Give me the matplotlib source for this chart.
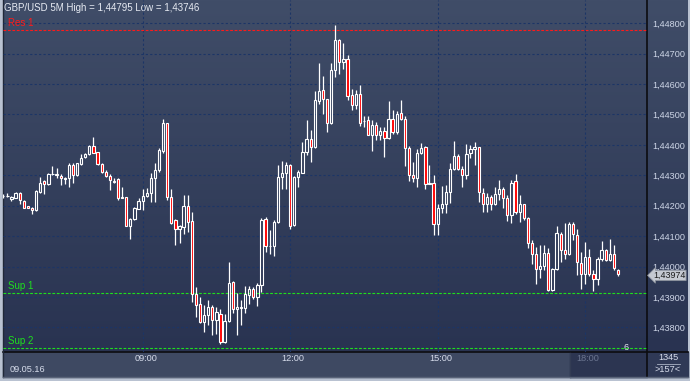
"""GBP/USD 5 minute candlestick chart with support / resistance levels.

Saves image to out.png (690x381).
"""

import numpy as np
from matplotlib import pyplot as plt
from matplotlib import transforms
from matplotlib.ticker import FuncFormatter

plt.rcParams["font.family"] = ["Liberation Sans", "DejaVu Sans"]

# chart data (5 minute candles, first one at 06:10)
start_time = "06:10"
opens = [
    1.44231, 1.44231, 1.44221, 1.44226, 1.44243, 1.44216, 1.44198, 1.44193, 1.44185, 1.44245,
    1.44281, 1.44271, 1.44303, 1.44300, 1.44298, 1.44287, 1.44292, 1.44334, 1.44300, 1.44337,
    1.44359, 1.44370, 1.44397, 1.44375, 1.44336, 1.44312, 1.44298, 1.44279, 1.44287, 1.44227,
    1.44227, 1.44133, 1.44155, 1.44190, 1.44215, 1.44232, 1.44243, 1.44292, 1.44317, 1.44381,
    1.44471, 1.44229, 1.44152, 1.44124, 1.44130, 1.44200, 1.44149, 1.43910, 1.43877, 1.43816,
    1.43842, 1.43868, 1.43824, 1.43844, 1.43751, 1.43820, 1.43950, 1.43859, 1.43862, 1.43862,
    1.43906, 1.43925, 1.43899, 1.43939, 1.44157, 1.44067, 1.44068, 1.44145, 1.44293, 1.44307,
    1.44334, 1.44137, 1.44296, 1.44309, 1.44378, 1.44419, 1.44393, 1.44544, 1.44580, 1.44552,
    1.44472, 1.44646, 1.44745, 1.44673, 1.44684, 1.44563, 1.44530, 1.44566, 1.44477, 1.44481,
    1.44434, 1.44467, 1.44432, 1.44445, 1.44424, 1.44484, 1.44443, 1.44506, 1.44486, 1.44391,
    1.44302, 1.44292, 1.44374, 1.44393, 1.44274, 1.44275, 1.44140, 1.44193, 1.44206, 1.44245,
    1.44321, 1.44362, 1.44321, 1.44302, 1.44372, 1.44386, 1.44392, 1.44243, 1.44204, 1.44229,
    1.44204, 1.44238, 1.44256, 1.44224, 1.44171, 1.44282, 1.44180, 1.44204, 1.44161, 1.44078,
    1.44042, 1.43992, 1.44001, 1.44045, 1.43923, 1.43992, 1.44108, 1.44055, 1.44042, 1.44141,
    1.44105, 1.44011, 1.43974, 1.44031, 1.43976, 1.43960, 1.44025, 1.44053, 1.44023, 1.44042,
    1.43990,
]
highs = [
    1.44240, 1.44243, 1.44232, 1.44245, 1.44245, 1.44218, 1.44200, 1.44196, 1.44253, 1.44293,
    1.44284, 1.44309, 1.44330, 1.44323, 1.44303, 1.44295, 1.44339, 1.44339, 1.44341, 1.44370,
    1.44374, 1.44400, 1.44427, 1.44378, 1.44339, 1.44319, 1.44303, 1.44290, 1.44290, 1.44260,
    1.44229, 1.44161, 1.44196, 1.44226, 1.44254, 1.44259, 1.44306, 1.44339, 1.44389, 1.44484,
    1.44473, 1.44256, 1.44155, 1.44136, 1.44234, 1.44234, 1.44178, 1.43934, 1.43899, 1.43875,
    1.43890, 1.43875, 1.43866, 1.43860, 1.43844, 1.44014, 1.43953, 1.43914, 1.43890, 1.43936,
    1.43936, 1.43934, 1.43947, 1.44161, 1.44163, 1.44121, 1.44153, 1.44334, 1.44347, 1.44345,
    1.44337, 1.44298, 1.44318, 1.44409, 1.44482, 1.44449, 1.44577, 1.44670, 1.44626, 1.44552,
    1.44670, 1.44795, 1.44747, 1.44736, 1.44695, 1.44583, 1.44580, 1.44596, 1.44494, 1.44494,
    1.44481, 1.44476, 1.44459, 1.44459, 1.44544, 1.44516, 1.44512, 1.44547, 1.44495, 1.44398,
    1.44344, 1.44387, 1.44407, 1.44395, 1.44335, 1.44300, 1.44206, 1.44264, 1.44269, 1.44340,
    1.44412, 1.44371, 1.44330, 1.44402, 1.44400, 1.44411, 1.44394, 1.44257, 1.44242, 1.44234,
    1.44260, 1.44284, 1.44262, 1.44234, 1.44284, 1.44304, 1.44234, 1.44207, 1.44163, 1.44086,
    1.44064, 1.44070, 1.44070, 1.44062, 1.43995, 1.44132, 1.44113, 1.44143, 1.44147, 1.44147,
    1.44125, 1.44047, 1.44080, 1.44058, 1.43987, 1.44031, 1.44083, 1.44058, 1.44091, 1.44072,
    1.43992,
]
lows = [
    1.44226, 1.44229, 1.44216, 1.44224, 1.44205, 1.44191, 1.44191, 1.44174, 1.44183, 1.44243,
    1.44240, 1.44268, 1.44300, 1.44290, 1.44268, 1.44273, 1.44262, 1.44275, 1.44297, 1.44335,
    1.44356, 1.44367, 1.44372, 1.44333, 1.44309, 1.44295, 1.44251, 1.44276, 1.44218, 1.44224,
    1.44132, 1.44091, 1.44154, 1.44188, 1.44185, 1.44229, 1.44213, 1.44213, 1.44311, 1.44374,
    1.44220, 1.44141, 1.44072, 1.44077, 1.44108, 1.44113, 1.43882, 1.43835, 1.43813, 1.43783,
    1.43806, 1.43775, 1.43778, 1.43746, 1.43747, 1.43817, 1.43846, 1.43775, 1.43808, 1.43846,
    1.43877, 1.43894, 1.43871, 1.43917, 1.44048, 1.44040, 1.44035, 1.44142, 1.44255, 1.44256,
    1.44123, 1.44134, 1.44260, 1.44306, 1.44367, 1.44345, 1.44390, 1.44536, 1.44500, 1.44442,
    1.44468, 1.44624, 1.44632, 1.44651, 1.44547, 1.44516, 1.44519, 1.44461, 1.44459, 1.44432,
    1.44380, 1.44415, 1.44417, 1.44360, 1.44421, 1.44437, 1.44437, 1.44483, 1.44330, 1.44281,
    1.44277, 1.44261, 1.44369, 1.44255, 1.44272, 1.44104, 1.44104, 1.44176, 1.44175, 1.44208,
    1.44316, 1.44316, 1.44261, 1.44289, 1.44356, 1.44334, 1.44213, 1.44180, 1.44180, 1.44185,
    1.44201, 1.44218, 1.44194, 1.44150, 1.44144, 1.44174, 1.44147, 1.44152, 1.44061, 1.44009,
    1.43941, 1.43963, 1.43987, 1.43919, 1.43919, 1.43989, 1.44015, 1.44026, 1.44039, 1.44086,
    1.43971, 1.43927, 1.43941, 1.43970, 1.43918, 1.43938, 1.44018, 1.44018, 1.44018, 1.43990,
    1.43970,
]
closes = [
    1.44233, 1.44233, 1.44227, 1.44243, 1.44218, 1.44194, 1.44193, 1.44185, 1.44248, 1.44276,
    1.44273, 1.44303, 1.44304, 1.44303, 1.44290, 1.44292, 1.44334, 1.44300, 1.44339, 1.44358,
    1.44370, 1.44397, 1.44374, 1.44336, 1.44312, 1.44297, 1.44284, 1.44282, 1.44224, 1.44225,
    1.44133, 1.44155, 1.44192, 1.44216, 1.44232, 1.44243, 1.44292, 1.44317, 1.44383, 1.44471,
    1.44229, 1.44143, 1.44124, 1.44132, 1.44200, 1.44146, 1.43910, 1.43875, 1.43816, 1.43842,
    1.43868, 1.43824, 1.43850, 1.43751, 1.43820, 1.43947, 1.43859, 1.43866, 1.43866, 1.43908,
    1.43925, 1.43899, 1.43939, 1.44154, 1.44068, 1.44068, 1.44145, 1.44293, 1.44307, 1.44334,
    1.44134, 1.44296, 1.44312, 1.44378, 1.44419, 1.44394, 1.44547, 1.44577, 1.44552, 1.44473,
    1.44646, 1.44745, 1.44673, 1.44684, 1.44560, 1.44530, 1.44569, 1.44473, 1.44479, 1.44434,
    1.44467, 1.44432, 1.44445, 1.44424, 1.44484, 1.44443, 1.44503, 1.44486, 1.44391, 1.44302,
    1.44292, 1.44374, 1.44391, 1.44272, 1.44272, 1.44140, 1.44193, 1.44206, 1.44245, 1.44321,
    1.44363, 1.44321, 1.44302, 1.44371, 1.44386, 1.44392, 1.44244, 1.44207, 1.44229, 1.44204,
    1.44238, 1.44256, 1.44226, 1.44171, 1.44276, 1.44180, 1.44204, 1.44161, 1.44078, 1.44042,
    1.43992, 1.44001, 1.44045, 1.43923, 1.43992, 1.44111, 1.44055, 1.44042, 1.44141, 1.44106,
    1.44015, 1.43974, 1.44031, 1.43976, 1.43960, 1.44025, 1.44053, 1.44023, 1.44042, 1.43995,
    1.43974,
]

time_labels = ["09:00", "12:00", "15:00", "18:00"]
price_ticks = [1.438, 1.439, 1.440, 1.441, 1.442, 1.443, 1.444, 1.445, 1.446, 1.447, 1.448]
level_names = ["Res 1", "Sup 1", "Sup 2"]
level_values = [1.44778, 1.43913, 1.43733]
level_colors = ["#ff1a1a", "#1ee01e", "#1ee01e"]
date_label = "09.05.16"
title = "GBP/USD 5M High = 1,44795 Low = 1,43746"

W, H = 690, 381


def fx(px):
    return px / W


def fy(py):
    return 1 - py / H


def minutes(hhmm):
    h, m = hhmm.split(":")
    return int(h) * 60 + int(m)


fig = plt.figure(figsize=(W / 100, H / 100), dpi=100)
fig.patch.set_facecolor("#b9c2d1")

# background layer in pixel coordinates (y down)
bg = fig.add_axes([0, 0, 1, 1])
bg.set_xlim(0, W)
bg.set_ylim(H, 0)
bg.axis("off")

top = np.array([64, 77, 104]) / 255
bottom = np.array([41, 51, 81]) / 255
grad = np.linspace(0, 1, 256)[:, None, None] * (bottom - top) + top
bg.imshow(grad, extent=(3, 688, 352, 0), aspect="auto", origin="upper", zorder=0)

# time strip and info box
bg.add_patch(plt.Rectangle((3, 352), 644, 25, color="#3e4962", zorder=1))
bg.add_patch(plt.Rectangle((570, 352), 77, 25, color="#2c3551", zorder=1))
bg.add_patch(plt.Rectangle((647, 352), 41, 25, color="#2f3956", zorder=1))
bg.plot([647, 647], [0, 377], color="#0c0c10", lw=1.2, zorder=2)
bg.plot([3, 688], [352, 352], color="#0c0c10", lw=1.2, zorder=2)
bg.plot([570, 570], [353, 377], color="#333c54", lw=1, zorder=2)
bg.plot([3, 3], [0, 377], color="#202838", lw=1, zorder=2)
bg.plot([3, 688], [377, 377], color="#5a6479", lw=1, zorder=2)

# main price axes
ax = fig.add_axes([fx(3), fy(352), fx(644), 352 / H])
ax.patch.set_alpha(0)
n = len(opens)
x = np.arange(n)
spacing = 4.098
ax.set_xlim(-0.3 / spacing, 644 / spacing - 0.3 / spacing)
ax.set_ylim(1.448 - 328.7 / 30400, 1.448 + 23.3 / 30400)
for s in ax.spines.values():
    s.set_visible(False)

# grid
tick_idx = [(minutes(t) - minutes(start_time)) // 5 for t in time_labels]
ax.set_yticks(price_ticks)
ax.set_xticks(tick_idx)
ax.grid(True, color="#1c3566", lw=0.8, ls=(0, (2, 2)), zorder=1)
ax.tick_params(length=0)
ax.set_xticklabels([])
ax.yaxis.tick_right()
ax.yaxis.set_major_formatter(FuncFormatter(lambda v, p: f"{v:.5f}".replace(".", ",")))
ax.tick_params(axis="y", colors="#cdd5e6", labelsize=6.6, pad=3.6)

# support / resistance levels
for name, val, col in zip(level_names, level_values, level_colors):
    ax.axhline(val, color=col, lw=0.8, ls=(0, (2.5, 1.5)), zorder=2)
    ax.annotate(name, (0, val), xycoords=("axes fraction", "data"), xytext=(5, 2),
                textcoords="offset pixels", color=col, fontsize=7, va="bottom")

# candles
o = np.array(opens)
c = np.array(closes)
h = np.array(highs)
l = np.array(lows)
body_top = np.maximum(o, c)
body_bot = np.minimum(o, c)
ax.vlines(x, body_top, h, color="white", lw=0.9, zorder=3)
ax.vlines(x, l, body_bot, color="white", lw=0.9, zorder=3)
fill = np.where(c < o, "#ff0000", "none")
heights = np.maximum(body_top - body_bot, 0.00002)
ax.bar(x, heights, bottom=body_bot, width=0.55, color=fill, edgecolor="white",
       linewidth=0.8, zorder=4)

# last price tag (sits just under the 1,44000 label, as in the terminal)
tr = transforms.blended_transform_factory(ax.transAxes, ax.transData)
ax.annotate(f"{closes[-1]:.5f}".replace(".", ","), (1 + 6 / 644, closes[-1]), xycoords=tr,
            xytext=(0, -1), textcoords="offset pixels",
            fontsize=6.4, color="#1a1a1a", va="center", ha="left", zorder=6,
            annotation_clip=False,
            bbox=dict(boxstyle="larrow,pad=0.08", fc="#c5c9d1", ec="#8a909c", lw=0.6))

# time labels in the bottom strip
for t, i in zip(time_labels, tick_idx):
    col = "#6b7590" if t == "18:00" else "#d6dceb"
    bg.text(3 + 3.3 + i * spacing, 358.5, t, color=col, fontsize=6.6,
            ha="center", va="center", zorder=3)
bg.text(10, 370, date_label, color="#d6dceb", fontsize=6.6, va="center", zorder=3)

# info box
bg.text(668, 358, "1345", color="#d6dceb", fontsize=6.6, ha="center", va="center", zorder=3)
bg.plot([657, 680], [364, 364], color="#aab2c4", lw=0.6, zorder=3)
bg.text(668, 370, ">157<", color="#d6dceb", fontsize=6.6, ha="center", va="center", zorder=3)
bg.text(626, 347.5, "6", color="#e8ecf4", fontsize=6.6, ha="center", va="center", zorder=3)

# title
bg.text(4, 8, title, color="#e6eaf2", fontsize=7, va="center", ha="left", zorder=3)

fig.savefig("out.png", dpi=100, facecolor=fig.get_facecolor())
plt.close()
